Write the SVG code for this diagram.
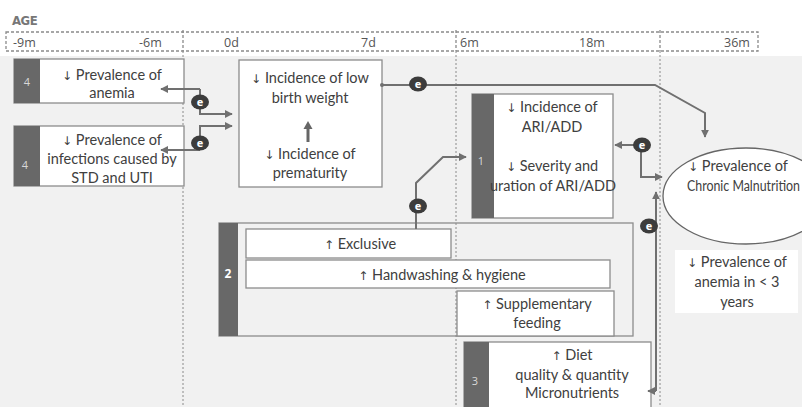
<svg xmlns="http://www.w3.org/2000/svg" width="802" height="407" viewBox="0 0 802 407">
<defs>
<marker id="ah" viewBox="0 0 10 10" refX="9" refY="5" markerWidth="4" markerHeight="4" orient="auto-start-reverse" markerUnits="strokeWidth">
<path d="M0,0 L10,5 L0,10 z" fill="#707070"/>
</marker>
<style>
.bg{fill:#f1f1f1}
.hdr{fill:none;stroke:#8a8a8a;stroke-width:1.3;stroke-dasharray:3,2}
.vd{stroke:#8a8a8a;stroke-width:1;stroke-dasharray:2,2}
.box{fill:#fff;stroke:#8c8c8c;stroke-width:1.3}
.outer{fill:none;stroke:#8c8c8c;stroke-width:1.3}
.side{fill:#686868}
.t{font-family:Lato,"Open Sans",sans-serif;font-size:14.5px;fill:#404040;text-anchor:middle}
.ar{font-family:"DejaVu Sans",sans-serif;font-size:12px;fill:#404040}
.h{font-family:"Open Sans",sans-serif;font-size:12.5px;fill:#555}
.num{font-family:"Open Sans",sans-serif;font-size:11px;fill:#d8d8d8;text-anchor:middle}
.con{fill:none;stroke:#707070;stroke-width:2}
.eb{fill:#3c3c3c}
.et{font-family:"Open Sans",sans-serif;font-size:11px;font-weight:bold;fill:#fff;text-anchor:middle}
</style>
</defs>
<rect x="0" y="0" width="802" height="407" class="bg"/>
<rect x="0" y="0" width="802" height="56" fill="#fff"/>

<g id="header">
<text x="12" y="25" font-family="'DejaVu Sans Condensed','DejaVu Sans',sans-serif" font-weight="bold" font-size="13" fill="#777" letter-spacing="-0.5">AGE</text>
<rect x="6" y="32" width="752" height="19" class="hdr"/>
<line x1="183" y1="30" x2="183" y2="51" class="hdr"/>
<line x1="456" y1="30" x2="456" y2="51" class="hdr"/>
<line x1="660" y1="30" x2="660" y2="51" class="hdr"/>
<text x="13" y="47" class="h">-9m</text>
<text x="139" y="47" class="h">-6m</text>
<text x="224" y="47" class="h">0d</text>
<text x="361" y="47" class="h">7d</text>
<text x="460" y="47" class="h">6m</text>
<text x="579" y="47" class="h">18m</text>
<text x="724" y="47" class="h">36m</text>
</g>

<g id="gridlines">
<line x1="183" y1="51" x2="183" y2="407" class="vd"/>
<line x1="456" y1="51" x2="456" y2="407" class="vd"/>
<line x1="660" y1="51" x2="660" y2="407" class="vd"/>
</g>

<g id="node-anemia">
<rect x="14" y="59" width="170" height="44" class="box"/>
<rect x="14" y="59" width="26" height="44" class="side"/>
<text x="27" y="86" class="num">4</text>
<text x="112" y="80" class="t"><tspan class="ar">↓</tspan> Prevalence of</text>
<text x="112" y="98" class="t">anemia</text>
</g>

<g id="node-infections">
<rect x="14" y="126" width="170" height="60" class="box"/>
<rect x="14" y="126" width="26" height="60" class="side"/>
<text x="25" y="169" class="num">4</text>
<text x="112" y="145" class="t"><tspan class="ar">↓</tspan> Prevalence of</text>
<text x="112" y="164" class="t">infections caused by</text>
<text x="112" y="183" class="t">STD and UTI</text>
</g>

<g id="node-lbw">
<rect x="239" y="60" width="143" height="127" class="box"/>
<text x="310" y="83" class="t"><tspan class="ar">↓</tspan> Incidence of low</text>
<text x="310" y="103" class="t">birth weight</text>
<path d="M308,142 L308,128" stroke="#666" stroke-width="3" fill="none"/>
<path d="M303.5,129 L308,121 L312.5,129 z" fill="#666"/>
<text x="310" y="159" class="t"><tspan class="ar">↓</tspan> Incidence of</text>
<text x="310" y="178" class="t">prematurity</text>
</g>

<g id="node-ari">
<rect x="472" y="94" width="141" height="124" class="box"/>
<rect x="472" y="94" width="22" height="124" class="side"/>
<text x="481" y="165" class="num">1</text>
<text x="552" y="112" class="t"><tspan class="ar">↓</tspan> Incidence of</text>
<text x="552" y="132" class="t">ARI/ADD</text>
<text x="552" y="171" class="t"><tspan class="ar">↓</tspan> Severity and</text>
<text x="553" y="191" class="t">uration of ARI/ADD</text>
</g>

<g id="node-chronic">
<ellipse cx="746" cy="196" rx="83" ry="48" fill="#fff" stroke="#666" stroke-width="1.3"/>
<text x="738" y="171" class="t"><tspan class="ar">↓</tspan> Prevalence of</text>
<text x="687" y="191" class="t" text-anchor="start" style="text-anchor:start" textLength="113" lengthAdjust="spacingAndGlyphs">Chronic Malnutrition</text>
</g>

<g id="node-anemia3">
<rect x="675" y="250" width="123" height="63" fill="#fff"/>
<text x="737" y="267" class="t"><tspan class="ar">↓</tspan> Prevalence of</text>
<text x="737" y="287" class="t">anemia in &lt; 3</text>
<text x="737" y="307" class="t">years</text>
</g>

<g id="node-group2">
<rect x="219" y="223" width="414" height="113" class="outer"/>
<rect x="219" y="223" width="19" height="113" class="side"/>
<text x="228" y="278" text-anchor="middle" font-family="'Open Sans',sans-serif" font-weight="bold" font-size="12" fill="#fff">2</text>
</g>

<g id="node-exclusive">
<rect x="246" y="229" width="205" height="29" class="box"/>
<text x="360" y="249" class="t"><tspan class="ar">↑</tspan> Exclusive</text>
</g>

<g id="node-handwashing">
<rect x="246" y="260" width="364" height="28" class="box"/>
<text x="442" y="280" class="t"><tspan class="ar">↑</tspan> Handwashing &amp; hygiene</text>
</g>

<g id="node-supplementary">
<rect x="457" y="291" width="157" height="45" class="box"/>
<text x="537" y="309" class="t"><tspan class="ar">↑</tspan> Supplementary</text>
<text x="537" y="328" class="t">feeding</text>
</g>

<g id="node-diet">
<rect x="464" y="342" width="187" height="70" class="box"/>
<rect x="464" y="342" width="25" height="70" class="side"/>
<text x="475" y="385" class="num">3</text>
<text x="572" y="360" class="t"><tspan class="ar">↑</tspan> Diet</text>
<text x="572" y="380" class="t">quality &amp; quantity</text>
<text x="572" y="398" class="t">Micronutrients</text>
</g>

<g id="connectors">
<path d="M200,89 L161,89" class="con" marker-end="url(#ah)"/>
<path d="M200,89 L200,114 L232,114" class="con" marker-end="url(#ah)"/>
<path d="M200,150 L161,150" class="con" marker-end="url(#ah)"/>
<path d="M200,150 L200,126 L232,126" class="con" marker-end="url(#ah)"/>
<path d="M382,85 L655,85 L705,113 L705,137" class="con" marker-end="url(#ah)"/>
<circle cx="382" cy="85" r="2" fill="#707070"/>
<path d="M641,145 L615,145" class="con" marker-end="url(#ah)"/>
<path d="M641,145 L641,177 L662,177" class="con" marker-end="url(#ah)"/>
<path d="M416,229 L416,183 L443,157 L466,157" class="con" marker-end="url(#ah)"/>
<path d="M656,391 L648,391" class="con" marker-end="url(#ah)"/>
<path d="M656,391 L656,192" class="con" marker-end="url(#ah)"/>
<ellipse cx="200" cy="102" rx="9" ry="7.5" class="eb"/><text x="200" y="106" class="et">e</text>
<ellipse cx="200" cy="143" rx="9" ry="7.5" class="eb"/><text x="200" y="147" class="et">e</text>
<ellipse cx="418" cy="84" rx="9" ry="7.5" class="eb"/><text x="418" y="88" class="et">e</text>
<ellipse cx="642" cy="145" rx="9" ry="7.5" class="eb"/><text x="642" y="149" class="et">e</text>
<ellipse cx="418" cy="206" rx="9" ry="7.5" class="eb"/><text x="418" y="210" class="et">e</text>
<ellipse cx="649" cy="226" rx="9" ry="7.5" class="eb"/><text x="649" y="230" class="et">e</text>
</g>
</svg>
